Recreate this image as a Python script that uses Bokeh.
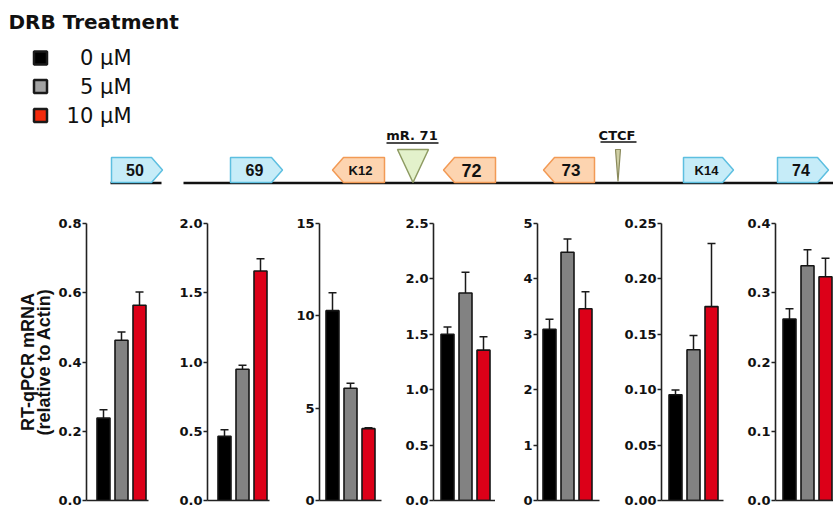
from bokeh.plotting import figure
from bokeh.models import Range1d, FixedTicker, ColumnDataSource, Whisker, TeeHead
from bokeh.layouts import row, column
from bokeh.embed import file_html
from bokeh.resources import INLINE
from bokeh.core.properties import value

FONT = "Liberation Sans"
WIDE = "DejaVu Sans"

# ---------------- data ----------------
treatments = ["0 \u03bcM", "5 \u03bcM", "10 \u03bcM"]
panel_genes = ["50", "69", "K12", "72", "73", "K14", "74"]

val_0uM = [0.238, 0.463, 10.28, 1.50, 3.09, 0.0954, 0.262]
err_0uM = [0.024, 0.048, 0.97, 0.066, 0.18, 0.0044, 0.015]
val_5uM = [0.463, 0.948, 6.08, 1.873, 4.48, 0.136, 0.339]
err_5uM = [0.024, 0.029, 0.27, 0.187, 0.24, 0.013, 0.023]
val_10uM = [0.564, 1.657, 3.89, 1.357, 3.46, 0.175, 0.323]
err_10uM = [0.038, 0.089, 0.05, 0.12, 0.31, 0.057, 0.027]

y_ticks = [
    [0.0, 0.2, 0.4, 0.6, 0.8],
    [0.0, 0.5, 1.0, 1.5, 2.0],
    [0, 5, 10, 15],
    [0.0, 0.5, 1.0, 1.5, 2.0, 2.5],
    [0, 1, 2, 3, 4, 5],
    [0.0, 0.05, 0.10, 0.15, 0.20, 0.25],
    [0.0, 0.1, 0.2, 0.3, 0.4],
]
y_tick_labels = [
    ["0.0", "0.2", "0.4", "0.6", "0.8"],
    ["0.0", "0.5", "1.0", "1.5", "2.0"],
    ["0", "5", "10", "15"],
    ["0.0", "0.5", "1.0", "1.5", "2.0", "2.5"],
    ["0", "1", "2", "3", "4", "5"],
    ["0.00", "0.05", "0.10", "0.15", "0.20", "0.25"],
    ["0.0", "0.1", "0.2", "0.3", "0.4"],
]

# gene schematic (schematic positions)
map_genes = ["50", "69", "K12", "72", "73", "K14", "74"]
map_start = [111, 230, 332, 443, 543, 683, 777]
map_end = [162, 282, 384, 495, 594, 733, 828]
map_strand = [1, 1, -1, -1, -1, 1, 1]
map_font = ["16px", "16px", "13px", "18px", "17px", "13px", "16px"]
map_line_segments = [(110, 161), (183, 840)]
sites = ["mR. 71", "CTCF"]
site_left = [397, 615]
site_right = [428, 620]

# ---------------- header ----------------
HW, HH = 833, 196
header = figure(width=HW, height=HH, x_range=Range1d(0, HW), y_range=Range1d(0, HH),
                output_backend="svg", toolbar_location=None, min_border=0)
header.axis.visible = False
header.grid.visible = False
header.outline_line_color = None


def hy(py):
    return HH - py


header.text(x=[8], y=[hy(21)], text=["DRB Treatment"], text_font=value(WIDE),
            text_font_style="bold", text_font_size="20px", text_baseline="middle",
            text_align="left", text_color="#111111")

leg_fill = ["#000000", "#a3a3a3", "#f42a0c"]
leg_y = [57.5, 86, 115]
header.rect(x=[40] * 3, y=[hy(v) for v in leg_y], width=13, height=13,
            fill_color=leg_fill, line_color="#1a1a1a", line_width=2.5)
header.text(x=[131] * 3, y=[hy(v) for v in leg_y], text=treatments,
            text_font=value(WIDE), text_font_size="21px", text_baseline="middle",
            text_align="right", text_color="#111111")

# genomic line
for a, b in map_line_segments:
    header.line(x=[a, b], y=[hy(182.5), hy(182.5)], line_color="#111111", line_width=2.5)

# gene arrows
xs, ys, fills, lines, tx, ty = [], [], [], [], [], []
top, bot, tip = 157, 182, 11
for s, e, d in zip(map_start, map_end, map_strand):
    if d > 0:
        px = [s, e - tip, e, e - tip, s]
        fills.append("#c6ecf8")
        lines.append("#5dbfe0")
    else:
        px = [e, s + tip, s, s + tip, e]
        fills.append("#fdd4b0")
        lines.append("#f29a55")
    py = [top, top, (top + bot) / 2, bot, bot]
    xs.append(px)
    ys.append([hy(v) for v in py])
    tx.append((s + e) / 2 - 2 * d)
    ty.append(hy(169.5))
header.patches(xs=xs, ys=ys, fill_color=fills, line_color=lines, line_width=1.5)
for g, x, y, fs in zip(map_genes, tx, ty, map_font):
    header.text(x=[x], y=[y], text=[g], text_font=value(FONT), text_font_style="bold",
                text_font_size=fs, text_baseline="middle", text_align="center",
                text_color="#111111")

# regulatory sites (triangles)
header.patch(x=[site_left[0], site_right[0], (site_left[0] + site_right[0]) / 2],
             y=[hy(149), hy(149), hy(182)], fill_color="#e3f1cb", line_color="#8e9b63", line_width=1.5)
header.patch(x=[site_left[1], site_right[1], (site_left[1] + site_right[1]) / 2],
             y=[hy(149), hy(149), hy(181)], fill_color="#cfcfa4", line_color="#8a8a5c", line_width=1.2)
for name, l, r in zip(sites, site_left, site_right):
    header.text(x=[(l + r) / 2 - 1], y=[hy(135)], text=[name], text_font=value(WIDE),
                text_font_style="bold", text_font_size="13px", text_baseline="middle",
                text_align="center", text_color="#111111")
header.line(x=[386, 438], y=[hy(142.5), hy(142.5)], line_color="#111111", line_width=1.5)
header.line(x=[600, 636], y=[hy(141.5), hy(141.5)], line_color="#111111", line_width=1.5)

# ---------------- bar panels ----------------
bar_colors = ["#000000", "#828282", "#dc0018"]
fig_widths = [165, 112, 114, 104, 124, 114, 100]
border_left = [86, 42, 42, 42, 42, 42, 42]
first_offset = [17, 17, 13, 14, 12, 14, 14]
PX = 18.0

panels = []
for i in range(7):
    fw = min(62, fig_widths[i] - border_left[i])
    br = fig_widths[i] - border_left[i] - fw
    start = 1 - first_offset[i] / PX
    p = figure(width=fig_widths[i], height=312,
               x_range=Range1d(start, start + fw / PX),
               y_range=Range1d(0, y_ticks[i][-1]),
               min_border_left=border_left[i], min_border_right=br,
               min_border_top=27, min_border_bottom=8,
               output_backend="svg", toolbar_location=None)
    p.grid.visible = False
    p.outline_line_color = None
    vals = [val_0uM[i], val_5uM[i], val_10uM[i]]
    errs = [err_0uM[i], err_5uM[i], err_10uM[i]]
    src = ColumnDataSource(dict(x=[1, 2, 3], top=vals, up=[v + e for v, e in zip(vals, errs)],
                                color=bar_colors))
    p.vbar(x="x", top="top", width=13 / PX, fill_color="color", line_color="#151515",
           line_width=1.6, source=src)
    p.add_layout(Whisker(base="x", lower="top", upper="up", source=src, line_width=1.5,
                         line_color="#1a1a1a",
                         upper_head=TeeHead(size=8, line_width=1.5, line_color="#1a1a1a"),
                         lower_head=None))
    ya = p.yaxis[0]
    ya.ticker = FixedTicker(ticks=y_ticks[i])
    ya.major_label_overrides = {t: l for t, l in zip(y_ticks[i], y_tick_labels[i])}
    ya.major_label_text_font = WIDE
    ya.major_label_text_font_style = "bold"
    ya.major_label_text_font_size = "13px"
    ya.major_label_text_color = "#111111"
    ya.axis_line_width = 1.6
    ya.axis_line_color = "#222222"
    ya.major_tick_line_width = 1.5
    ya.major_tick_line_color = "#222222"
    ya.major_tick_in = 0
    ya.major_tick_out = 4
    ya.minor_tick_line_color = None
    ya.major_label_standoff = 1
    if i == 0:
        ya.axis_label = "RT-qPCR mRNA\n(relative to Actin)"
        ya.axis_label_text_font = FONT
        ya.axis_label_text_font_style = "bold"
        ya.axis_label_text_font_size = "18px"
        ya.axis_label_text_color = "#111111"
        ya.axis_label_text_line_height = 0.8
        ya.axis_label_standoff = 1
    xa = p.xaxis[0]
    xa.ticker = FixedTicker(ticks=[])
    xa.major_tick_out = 0
    xa.major_tick_in = 0
    xa.minor_tick_line_color = None
    xa.major_label_standoff = 0
    xa.major_label_text_font_size = "0px"
    xa.axis_line_width = 1.6
    xa.axis_line_color = "#222222"
    panels.append(p)

layout = column(header, row(*panels, spacing=0), spacing=0)

open("out.html", "w").write(file_html(layout, INLINE))
